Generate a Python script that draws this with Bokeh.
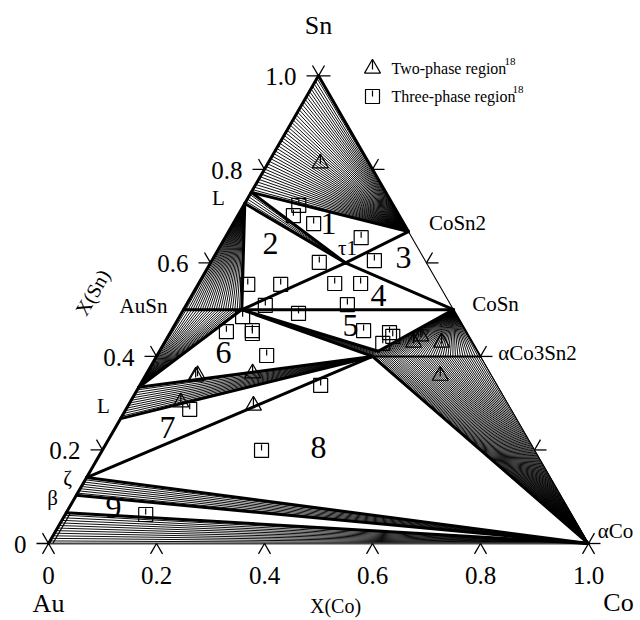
import numpy as np
from bokeh.plotting import figure
from bokeh.models import Range1d
from bokeh.core.properties import value
from bokeh.embed import file_html
from bokeh.resources import INLINE

# ---------------- data: compositions as mole fractions (x_Co, x_Sn) ----------------
node_names = ["Sn", "L1", "L2", "CoSn2", "tau1", "CoSn", "AuSn", "AuSn_Co",
              "Co3Sn2_a", "Co3Sn2_b", "Co3Sn2", "L3", "L4", "zeta1", "zeta2",
              "fcc", "Au", "Co"]
node_co = [0.0, 0.0, 0.0, 0.333, 0.25, 0.5, 0.0, 0.108,
           0.405, 0.400, 0.6, 0.0, 0.0, 0.0, 0.0,
           0.0, 0.0, 1.0]
node_sn = [1.0, 0.751, 0.727, 0.667, 0.60, 0.5, 0.5, 0.5,
           0.411, 0.400, 0.4, 0.334, 0.267, 0.141, 0.103,
           0.066, 0.0, 0.0]

# phase boundaries (tie-triangle sides)
thick_bounds = [("L1", "CoSn2"), ("L1", "tau1"), ("L2", "tau1"), ("CoSn2", "tau1"),
                ("tau1", "CoSn"), ("L2", "AuSn_Co"), ("AuSn_Co", "tau1"),
                ("AuSn", "CoSn"), ("AuSn_Co", "Co3Sn2_a"), ("CoSn", "Co3Sn2_a"),
                ("AuSn_Co", "Co3Sn2_b"), ("AuSn_Co", "L3"), ("L3", "Co3Sn2_b"),
                ("L4", "Co3Sn2_b"), ("zeta1", "Co3Sn2_b"), ("Co3Sn2_b", "Co"),
                ("zeta1", "Co"), ("zeta2", "Co"), ("fcc", "Co"),
                ("Au", "Sn"), ("Sn", "CoSn2")]
medium_bounds = [("Co3Sn2_b", "Co3Sn2"), ("CoSn", "Co3Sn2")]
thin_bounds = [("CoSn2", "CoSn"), ("Co3Sn2", "Co")]

# two-phase fields: tie lines run from a0->a1 (one side) to b0->b1 (other side)
tie_fields = [("Sn", "L1", "CoSn2", "CoSn2", 46),
              ("L1", "L2", "tau1", "tau1", 6),
              ("L2", "L2", "AuSn_Co", "AuSn", 26),
              ("AuSn_Co", "AuSn", "L3", "L3", 22),
              ("AuSn_Co", "AuSn_Co", "Co3Sn2_a", "Co3Sn2_b", 8),
              ("CoSn", "CoSn", "Co3Sn2_b", "Co3Sn2", 44),
              ("L3", "L4", "Co3Sn2_b", "Co3Sn2_b", 13),
              ("Co3Sn2_b", "Co3Sn2", "Co", "Co", 50),
              ("zeta1", "zeta2", "Co", "Co", 9),
              ("fcc", "Au", "Co", "Co", 13)]

# experimental points
two_phase_co = [0.097, 0.094, 0.096, 0.196, 0.094, 0.232, 0.461, 0.468, 0.513, 0.546]
two_phase_sn = [0.813, 0.357, 0.360, 0.364, 0.302, 0.295, 0.430, 0.443, 0.430, 0.359]
three_phase_co = [0.102, 0.103, 0.149, 0.252, 0.301, 0.201, 0.092, 0.153, 0.252, 0.300,
                  0.147, 0.217, 0.298, 0.117, 0.103, 0.150, 0.153, 0.356, 0.406, 0.416,
                  0.405, 0.203, 0.335, 0.118, 0.295, 0.149]
three_phase_sn = [0.723, 0.701, 0.684, 0.654, 0.605, 0.601, 0.554, 0.554, 0.556, 0.556,
                  0.509, 0.492, 0.511, 0.485, 0.453, 0.455, 0.449, 0.455, 0.451, 0.443,
                  0.428, 0.402, 0.338, 0.287, 0.199, 0.062]

tick_values = [0.0, 0.2, 0.4, 0.6, 0.8, 1.0]
tick_labels = ["0", "0.2", "0.4", "0.6", "0.8", "1.0"]

region_numbers = ["1", "2", "3", "4", "5", "6", "7", "8", "9"]
phase_labels = ["L", "CoSn2", "\u03c41", "AuSn", "CoSn", "\u03b1Co3Sn2", "L",
                "\u03b6", "\u03b2", "\u03b1Co"]

# ---------------- geometry helpers ----------------
S3 = np.sqrt(3) / 2
PX = 540.0  # pixels per unit length of the triangle side


def cart(co, sn):
    co = np.asarray(co, dtype=float)
    sn = np.asarray(sn, dtype=float)
    return co + sn / 2, sn * S3


def scr(px, py):
    """canvas pixel -> plot coordinates (for placing annotations)"""
    return (px - 48) / PX, (543 - py) / PX


node = {n: cart(c, s) for n, c, s in zip(node_names, node_co, node_sn)}

p = figure(width=640, height=620, output_backend="svg", toolbar_location=None,
           x_range=Range1d(-48 / PX, (640 - 48) / PX),
           y_range=Range1d((543 - 620) / PX, 543 / PX),
           x_axis_location=None, y_axis_location=None, min_border=0)
p.grid.visible = False
p.outline_line_color = None
p.background_fill_color = "white"
p.border_fill_color = "white"

SERIF = value("Liberation Serif")

# ---- tie lines ----
x0s, y0s, x1s, y1s = [], [], [], []
for a0, a1, b0, b1, n in tie_fields:
    t = np.linspace(0, 1, n)
    ax = node[a0][0] + (node[a1][0] - node[a0][0]) * t
    ay = node[a0][1] + (node[a1][1] - node[a0][1]) * t
    bx = node[b0][0] + (node[b1][0] - node[b0][0]) * t
    by = node[b0][1] + (node[b1][1] - node[b0][1]) * t
    x0s += list(ax); y0s += list(ay); x1s += list(bx); y1s += list(by)
p.segment(x0s, y0s, x1s, y1s, line_color="black", line_width=0.95)

# ---- triangle frame ----
p.line([node["Au"][0], node["Co"][0]], [node["Au"][1], node["Co"][1]],
       line_color="#444444", line_width=2)
# Au-rich fcc boundary close to the Au-Sn side
fx, fy = cart([0.008, 0.008], [0.0, 0.066])
p.line(fx, fy, line_color="black", line_width=1.2)


def draw_bounds(pairs, width):
    xs0 = [node[a][0] for a, b in pairs]
    ys0 = [node[a][1] for a, b in pairs]
    xs1 = [node[b][0] for a, b in pairs]
    ys1 = [node[b][1] for a, b in pairs]
    p.segment(xs0, ys0, xs1, ys1, line_color="black", line_width=width,
              line_cap="round")


draw_bounds(thin_bounds, 1.1)
draw_bounds(medium_bounds, 2.0)
draw_bounds(thick_bounds, 3.0)

# ---- ticks on the three sides ----
d = 12 / PX
tx0, ty0, tx1, ty1 = [], [], [], []
for v in tick_values:
    bx, by = cart(v, 0.0)        # X(Co) side
    for dx, dy in [(-0.5 * d, -S3 * d), (0.5 * d, -S3 * d)]:
        tx0.append(bx); ty0.append(by); tx1.append(bx + dx); ty1.append(by + dy)
    lx, ly = cart(0.0, v)        # Au-Sn side
    for dx, dy in [(-d, 0), (-0.5 * d, S3 * d)]:
        tx0.append(lx); ty0.append(ly); tx1.append(lx + dx); ty1.append(ly + dy)
    rx, ry = cart(1 - v, v)      # Co-Sn side
    for dx, dy in [(d, 0), (0.5 * d, S3 * d)]:
        tx0.append(rx); ty0.append(ry); tx1.append(rx + dx); ty1.append(ry + dy)
p.segment(tx0, ty0, tx1, ty1, line_color="black", line_width=1.3)

bx, by = cart(tick_values, [0.0] * len(tick_values))
p.text(bx, by - 32 / PX, text=tick_labels, text_font=SERIF,
       text_font_size=value("25px"), text_align="center", text_baseline="middle")
lx, ly = cart([0.0] * len(tick_values), tick_values)
p.text(lx - 22 / PX, ly - 1 / PX, text=tick_labels, text_font=SERIF,
       text_font_size=value("25px"), text_align="right", text_baseline="middle")

# ---- experimental points ----
tpx, tpy = cart(two_phase_co, two_phase_sn)
p.scatter(tpx, tpy, marker="triangle", size=16, fill_alpha=0,
          line_color="black", line_width=1.2)
p.segment(tpx, tpy + 8 / PX, tpx, tpy - 1 / PX, line_color="black", line_width=1.2)
spx, spy = cart(three_phase_co, three_phase_sn)
p.scatter(spx, spy, marker="square", size=14, fill_alpha=0,
          line_color="black", line_width=1.2)
p.segment(spx, spy + 6 / PX, spx, spy, line_color="black", line_width=1.2)

# ---- legend ----
lgx, lgy = scr(372, 68)
p.scatter([lgx], [lgy], marker="triangle", size=16, fill_alpha=0,
          line_color="black", line_width=1.2)
p.segment([lgx], [lgy + 8 / PX], [lgx], [lgy - 1 / PX], line_color="black", line_width=1.2)
lsx, lsy = scr(372, 96)
p.scatter([lsx], [lsy], marker="square", size=14, fill_alpha=0,
          line_color="black", line_width=1.2)
p.segment([lsx], [lsy + 6 / PX], [lsx], [lsy], line_color="black", line_width=1.2)
gx, gy = scr(391, 68)
hx, hy = scr(391, 96)
p.text([gx, hx], [gy, hy], text=["Two-phase region", "Three-phase region"],
       text_font=SERIF, text_font_size=value("16px"), text_align="left",
       text_baseline="middle")
sx1, sy1 = scr(504, 61)
sx2, sy2 = scr(512, 89)
p.text([sx1, sx2], [sy1, sy2], text=["18", "18"], text_font=SERIF,
       text_font_size=value("11px"), text_align="left", text_baseline="middle")


def put(texts, pixels, size, align="center", angle=0.0):
    xs = [scr(a, b)[0] for a, b in pixels]
    ys = [scr(a, b)[1] for a, b in pixels]
    p.text(xs, ys, text=texts, text_font=SERIF, text_font_size=value(size),
           text_align=align, text_baseline="middle", angle=angle)


put(region_numbers, [(328, 223), (270, 243), (403, 257), (378, 295), (350, 325),
                     (223, 352), (167, 427), (318, 447), (113, 507)], "32px")
put(phase_labels, [(218, 197), (457, 222), (347, 247), (143, 305), (495, 303),
                   (537, 352), (103, 405), (67, 477), (52, 497), (615, 530)], "21px")
put(["Sn", "Au", "Co"], [(318, 25), (48, 603), (618, 602)], "26px")
put(["X(Co)"], [(335, 605)], "20px")
put(["X(Sn)"], [(92, 292)], "20px", angle=np.pi / 3)

open("out.html", "w").write(file_html(p, INLINE))
